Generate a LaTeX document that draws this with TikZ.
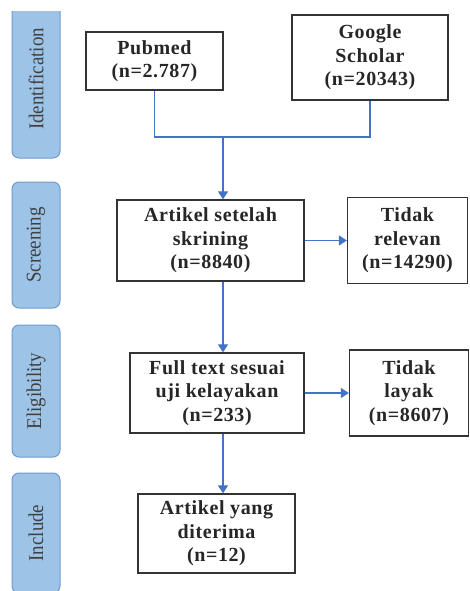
\documentclass[tikz,border=0pt]{standalone}
\usepackage{fontspec}
\setmainfont{Liberation Serif}
\newfontfamily\kotakfont{Liberation Serif}[LetterSpace=3]
\usetikzlibrary{arrows.meta}
\definecolor{garis}{HTML}{4472C4}
\definecolor{fasebiru}{HTML}{9DC3E6}
\definecolor{fasetepi}{HTML}{6F9BD1}

\begin{document}
\begin{tikzpicture}[x=1pt,y=-1pt,
	kotak/.style={draw=black!80,line width=1.3pt,align=center,inner sep=0pt,
		text=black!85,font=\kotakfont\fontsize{20}{23.5}\selectfont\bfseries},
	fase/.style={draw=fasetepi,fill=fasebiru,line width=1pt,rounded corners=7pt,
		rotate=90,minimum height=48pt,inner sep=0pt,text=black!75,
		font=\fontsize{21}{24}\selectfont},
	panah/.style={draw=garis,line width=1.2pt,-{Triangle[length=8pt,width=10pt]}}]
		\useasboundingbox (0,0) rectangle (470,591);
		% fase di kiri
		\begin{scope}
			\clip (0,12) rectangle (80,591);
			\node[fase,minimum width=158pt] (identifikasi) at (36,79) {\scalebox{0.9}[1]{Identification}};
			\node[fase,minimum width=126pt] (screening) at (36,245) {\scalebox{0.9}[1]{Screening}};
			\node[fase,minimum width=132pt] (eligibility) at (36,391) {\scalebox{0.9}[1]{Eligibility}};
			\node[fase,minimum width=120pt] (include) at (36,533) {\scalebox{0.9}[1]{Include}};
		\end{scope}
		% kotak
		\node[kotak,minimum width=137pt,minimum height=58pt] (pubmed) at (154.5,61) {Pubmed\\(n=2.787)};
		\node[kotak,minimum width=156pt,minimum height=85pt] (google) at (370,57.5) {Google\\Scholar\\(n=20343)};
		\node[kotak,minimum width=187pt,minimum height=81pt] (skrining) at (210.5,240.5) {Artikel setelah\\skrining\\(n=8840)};
		\node[kotak,minimum width=120pt,minimum height=86pt] (relevan) at (407.5,240.5) {Tidak\\relevan\\(n=14290)};
		\node[kotak,minimum width=174pt,minimum height=80pt] (fulltext) at (217,393) {Full text sesuai\\uji kelayakan\\(n=233)};
		\node[kotak,minimum width=119pt,minimum height=86pt] (layak) at (409,393) {Tidak\\layak\\(n=8607)};
		\node[kotak,minimum width=157pt,minimum height=79pt] (diterima) at (216.5,533.5) {Artikel yang\\diterima\\(n=12)};
		% garis
		\coordinate (temu) at (223,137);
		\draw[draw=garis,line width=1.2pt] (pubmed.south) |- (temu) -| (google.south);
		\draw[panah] (temu) -- (temu |- skrining.north);
		\draw[panah] (skrining.east) -- (relevan.west);
		\draw[panah] (temu |- skrining.south) -- (temu |- fulltext.north);
		\draw[panah] (fulltext.east) -- (layak.west);
		\draw[panah] (temu |- fulltext.south) -- (temu |- diterima.north);
\end{tikzpicture}
\end{document}
